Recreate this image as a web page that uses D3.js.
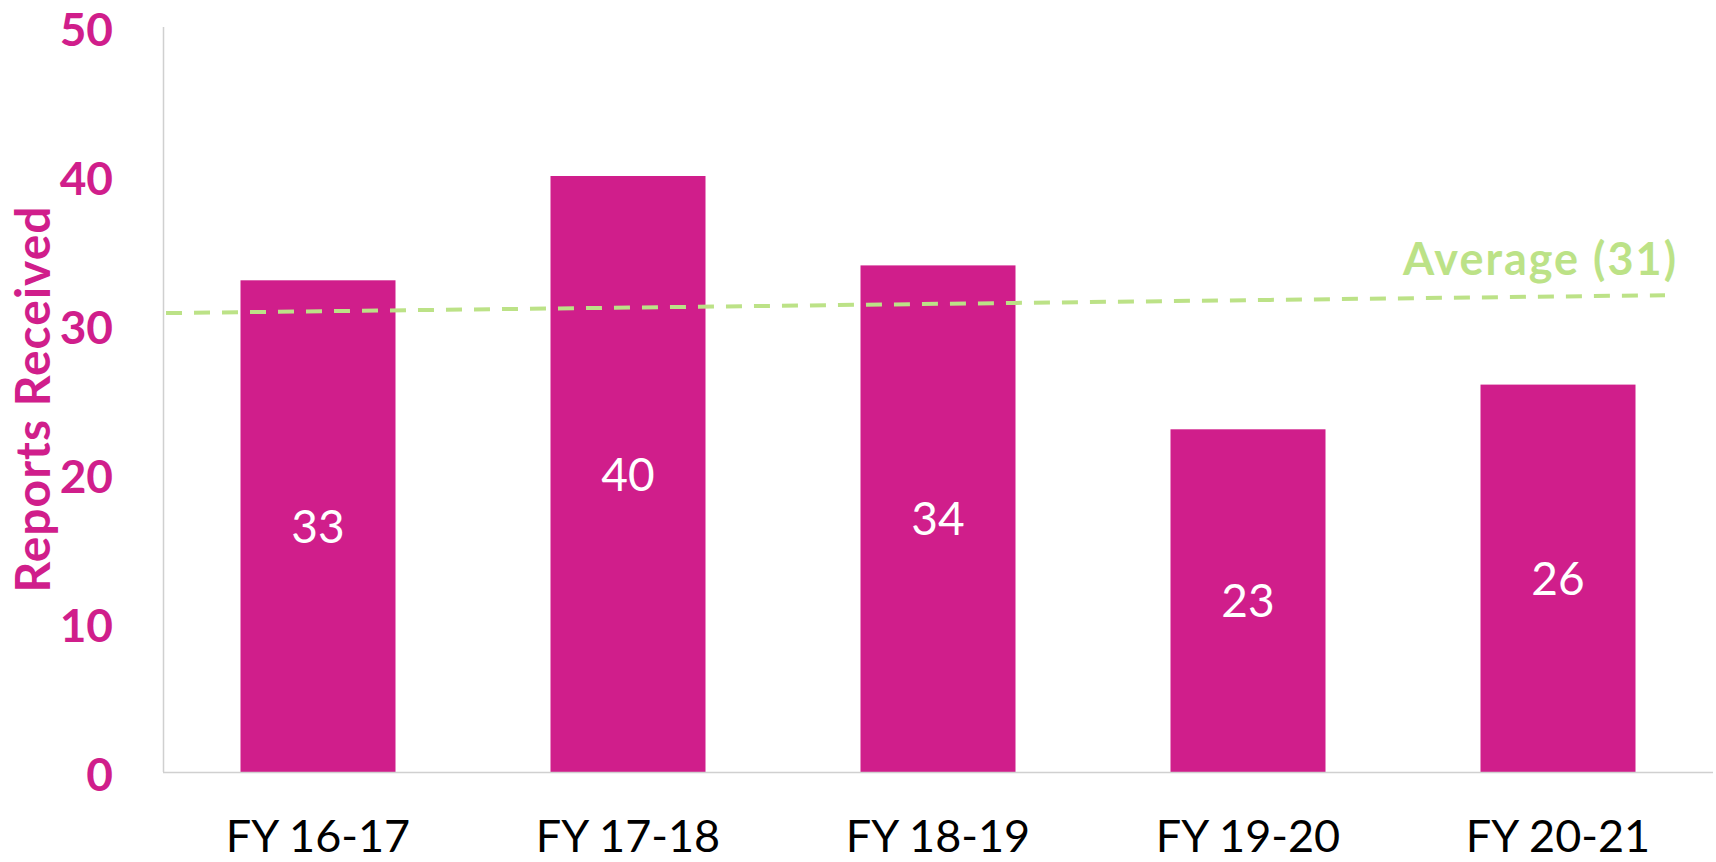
<!DOCTYPE html>
<html><head><meta charset="utf-8">
<script src="https://cdn.jsdelivr.net/npm/d3@7"></script>
<style>
html,body{margin:0;padding:0;background:#fff;}
svg{display:block;}
text{font-family:Lato,"Open Sans",sans-serif;}
</style></head>
<body>
<svg id="chart" width="1716" height="862"></svg>
<script>
const categories = ["FY 16-17","FY 17-18","FY 18-19","FY 19-20","FY 20-21"];
const reports = [33,40,34,23,26];
const yTicks = [0,10,20,30,40,50];
const averageLabel = "Average (31)";
const averageEnds = [30.8, 32.0]; // drawn line drifts slightly in the original
const yTitle = "Reports Received";

const W = 1716, H = 862;
const margin = {left:163, right:3, top:27, bottom:90};
const svg = d3.select("#chart");
const magenta = "#D01E8B", green = "#BCE287";

const x = d3.scaleBand().domain(categories).range([margin.left, W - margin.right]).paddingInner(0.5).paddingOuter(0.25);
const y = d3.scaleLinear().domain([0,50]).range([H - margin.bottom, margin.top]);

// axis lines
svg.append("line").attr("x1",margin.left+0.5).attr("x2",margin.left+0.5)
  .attr("y1",y(50)).attr("y2",y(0)).attr("stroke","#D0D0D0").attr("stroke-width",1.5);

// bars
svg.selectAll("rect.bar").data(reports).enter().append("rect").attr("class","bar")
  .attr("x",(d,i)=>x(categories[i])).attr("width",x.bandwidth())
  .attr("y",d=>y(d)).attr("height",d=>y(0)-y(d)).attr("fill",magenta);

svg.append("line").attr("x1",margin.left).attr("x2",W - margin.right)
  .attr("y1",y(0)+0.5).attr("y2",y(0)+0.5).attr("stroke","#D0D0D0").attr("stroke-width",1.5);

// value labels
svg.selectAll("text.val").data(reports).enter().append("text").attr("class","val")
  .attr("x",(d,i)=>x(categories[i])+x.bandwidth()/2)
  .attr("y",d=>(y(d)+y(0))/2).attr("dy","0.36em")
  .attr("text-anchor","middle").attr("fill","#fff").attr("font-size",46)
  .text(d=>d);

// y tick labels
const yAxis = d3.axisLeft(y).tickValues(yTicks).tickSize(0).tickPadding(0);
const gy = svg.append("g").attr("transform",`translate(113,0)`).call(yAxis);
gy.select(".domain").remove();
gy.selectAll("text").attr("fill",magenta).attr("font-size",46).attr("font-weight","bold")
  .style("font-family","Lato, 'Open Sans', sans-serif").attr("dy","0.41em");

// x tick labels
const xAxis = d3.axisBottom(x).tickSize(0).tickPadding(0);
const gx = svg.append("g").attr("transform",`translate(0,${y(0)+64})`).call(xAxis);
gx.select(".domain").remove();
gx.selectAll("text").attr("fill","#000").attr("font-size",45)
  .style("font-family","Lato, 'Open Sans', sans-serif").attr("dy","0.36em");

// average line
const avgX = [166, 1665];
svg.append("line").attr("x1",avgX[0]).attr("x2",avgX[1])
  .attr("y1",y(averageEnds[0])).attr("y2",y(averageEnds[1]))
  .attr("stroke",green).attr("stroke-width",4).attr("stroke-dasharray","16 12");
svg.append("text").attr("x",1678).attr("y",275).attr("text-anchor","end")
  .attr("fill",green).attr("font-size",45).attr("font-weight","bold")
  .attr("letter-spacing","2px").text(averageLabel);

// y title
svg.append("text").attr("transform",`translate(50,399) rotate(-90)`)
  .attr("text-anchor","middle").attr("fill",magenta).attr("font-size",48).attr("font-weight","bold")
  .attr("letter-spacing","1px").text(yTitle);
</script>
</body></html>
